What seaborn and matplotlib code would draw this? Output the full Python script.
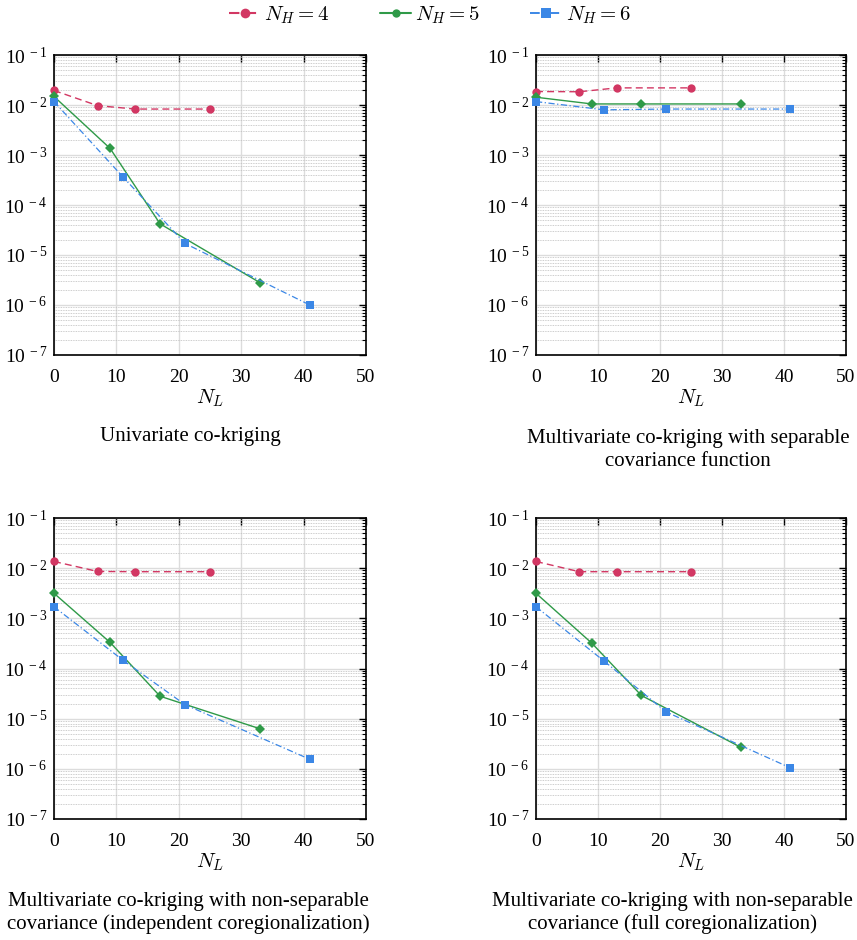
import numpy as np
import pandas as pd
import matplotlib
matplotlib.use("Agg")
import matplotlib.pyplot as plt
import seaborn as sns
from matplotlib.lines import Line2D
from matplotlib.ticker import LogLocator, FixedLocator, FuncFormatter

sns.set_theme(style="white")
plt.rcParams["font.family"] = ["Liberation Serif", "DejaVu Serif"]
plt.rcParams["mathtext.fontset"] = "cm"
plt.rcParams["text.color"] = "black"
plt.rcParams["axes.labelcolor"] = "black"
plt.rcParams["xtick.color"] = "black"
plt.rcParams["ytick.color"] = "black"

# ---- data ----
x_nh4 = [0, 7, 13, 25]
x_nh5 = [0, 9, 17, 33]
x_nh6 = [0, 11, 21, 41]

p1_nh4 = [1.95e-2, 9.7e-3, 8.3e-3, 8.3e-3]
p1_nh5 = [1.48e-2, 1.35e-3, 4.2e-5, 2.8e-6]
p1_nh6 = [1.17e-2, 3.7e-4, 1.7e-5, 1.0e-6]

p2_nh4 = [1.86e-2, 1.84e-2, 2.2e-2, 2.2e-2]
p2_nh5 = [1.43e-2, 1.05e-2, 1.05e-2, 1.05e-2]
p2_nh6 = [1.17e-2, 8.0e-3, 8.3e-3, 8.3e-3]

p3_nh4 = [1.36e-2, 8.6e-3, 8.5e-3, 8.5e-3]
p3_nh5 = [3.16e-3, 3.3e-4, 2.8e-5, 6.3e-6]
p3_nh6 = [1.7e-3, 1.48e-4, 1.9e-5, 1.55e-6]

p4_nh4 = [1.36e-2, 8.5e-3, 8.5e-3, 8.5e-3]
p4_nh5 = [3.16e-3, 3.2e-4, 2.9e-5, 2.7e-6]
p4_nh6 = [1.7e-3, 1.4e-4, 1.36e-5, 1.05e-6]

series_labels = [r"$N_H = 4$", r"$N_H = 5$", r"$N_H = 6$"]
captions = [
    "Univariate co-kriging",
    "Multivariate co-kriging with separable\ncovariance function",
    "Multivariate co-kriging with non-separable\ncovariance (independent coregionalization)",
    "Multivariate co-kriging with non-separable\ncovariance (full coregionalization)",
]
x_ticks = [0, 10, 20, 30, 40, 50]
y_exps = [-7, -6, -5, -4, -3, -2, -1]

panels = [
    (p1_nh4, p1_nh5, p1_nh6),
    (p2_nh4, p2_nh5, p2_nh6),
    (p3_nh4, p3_nh5, p3_nh6),
    (p4_nh4, p4_nh5, p4_nh6),
]

# ---- styles ----
colors = ["#d23763", "#2f9a48", "#3b87e6"]
linestyles = [(0, (5, 3)), "-", (0, (5, 2, 1, 2))]
linewidths = [1.0, 1.0, 0.9]
markers_plot = ["o", "D", "s"]
markers_leg = ["o", "o", "s"]
msizes = [6, 5, 5.5]

fig = plt.figure(figsize=(8.57, 9.40), dpi=100)

positions = [
    [54 / 857, 1 - 355 / 940, 312 / 857, 300 / 940],
    [536 / 857, 1 - 355 / 940, 310 / 857, 300 / 940],
    [54 / 857, 1 - 819 / 940, 312 / 857, 301 / 940],
    [536 / 857, 1 - 819 / 940, 310 / 857, 301 / 940],
]
xs = [x_nh4, x_nh5, x_nh6]

def fmt(v, pos):
    e = int(round(np.log10(v)))
    return r"$\mathregular{10^{\,%d}}$" % e

for i, (pos, vals) in enumerate(zip(positions, panels)):
    ax = fig.add_axes(pos)
    for k in range(3):
        df = pd.DataFrame({"NL": xs[k], "err": vals[k]})
        sns.lineplot(data=df, x="NL", y="err", ax=ax, color=colors[k],
                     linestyle=linestyles[k], linewidth=linewidths[k],
                     marker=markers_plot[k], markersize=msizes[k],
                     markeredgewidth=0, zorder=3 + k, clip_on=False)
    ax.set_yscale("log")
    ax.set_xlim(0, 50)
    ax.set_ylim(1e-7, 1e-1)
    ax.xaxis.set_major_locator(FixedLocator(x_ticks))
    ax.yaxis.set_major_locator(FixedLocator([10.0 ** e for e in y_exps]))
    ax.yaxis.set_minor_locator(LogLocator(base=10, subs=np.arange(2, 10), numticks=20))
    ax.yaxis.set_major_formatter(FuncFormatter(fmt))
    ax.yaxis.set_minor_formatter(FuncFormatter(lambda v, p: ""))
    ax.grid(True, which="major", color="#dcdcdc", linewidth=1.0, linestyle="-")
    ax.grid(True, which="minor", axis="y", color="#bdbdbd", linewidth=0.6, linestyle=(0, (1, 1)))
    ax.tick_params(which="both", direction="in", top=True, right=True, labelsize=14,
                   colors="black", length=5, width=1.0)
    ax.tick_params(axis="x", which="major", pad=10)
    ax.tick_params(axis="y", which="major", pad=5)
    ax.tick_params(which="minor", length=3, width=0.8)
    for s in ax.spines.values():
        s.set_color("black")
        s.set_linewidth(1.2)
    ax.set_xlabel(r"$N_L$", fontsize=15, labelpad=1)
    ax.set_ylabel("")
    for lab in ax.get_xticklabels() + ax.get_yticklabels():
        lab.set_fontfamily(["Liberation Serif"])
    if ax.get_legend() is not None:
        ax.get_legend().remove()

# captions
fig.text(190 / 857, 1 - 436 / 940, captions[0], ha="center", va="center", fontsize=15)
fig.text(688 / 857, 1 - 450 / 940, captions[1], ha="center", va="center", fontsize=15, linespacing=1.35)
fig.text(188 / 857, 1 - 913 / 940, captions[2], ha="center", va="center", fontsize=15, linespacing=1.25)
fig.text(672 / 857, 1 - 913 / 940, captions[3], ha="center", va="center", fontsize=15, linespacing=1.25)

handles = [Line2D([0], [0], color=colors[k], linestyle=linestyles[k], linewidth=linewidths[k] + 0.5,
                  marker=markers_leg[k], markersize=msizes[k] + 1, markeredgewidth=0)
           for k in range(3)]
fig.legend(handles, series_labels, loc="center", bbox_to_anchor=(430 / 857, 1 - 15 / 940),
           ncol=3, frameon=False, fontsize=15, handlelength=1.5, handletextpad=0.2,
           columnspacing=2.4)

fig.savefig("out.png", dpi=100)
